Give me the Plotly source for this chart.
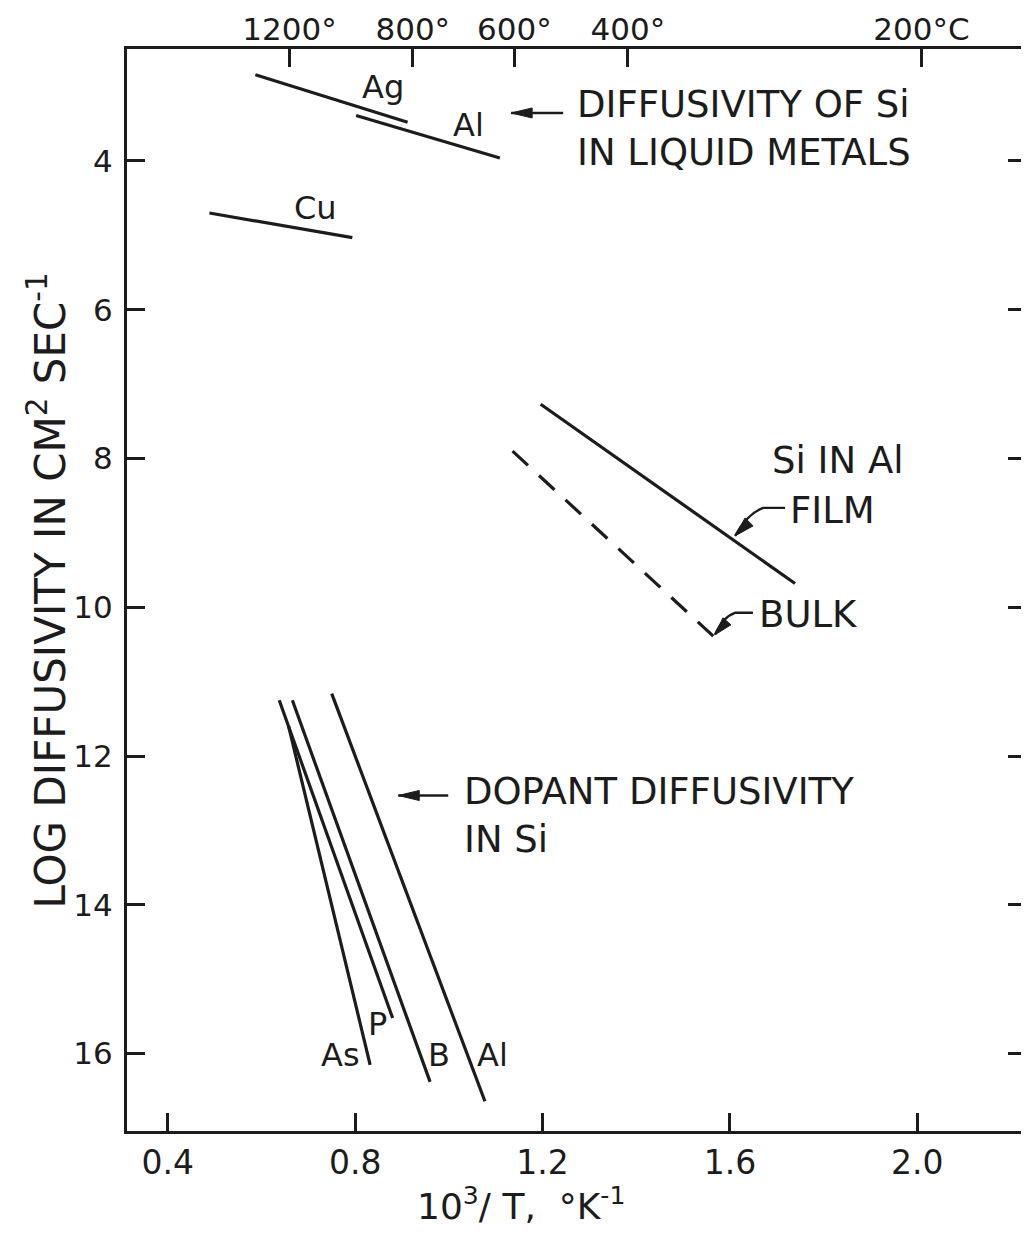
import plotly.graph_objects as go

# ---------------- data ----------------
# Diffusivity of Si in liquid metals: straight segments (x = 10^3/T, y = -log D)
liquid_metals = ["Ag", "Al", "Cu"]
liquid_x0 = [0.587, 0.802, 0.489]
liquid_x1 = [0.912, 1.109, 0.794]
liquid_y0 = [2.84, 3.39, 4.70]
liquid_y1 = [3.48, 3.96, 5.03]

# Si in Al
si_in_al = ["FILM", "BULK"]
sial_x0 = [1.196, 1.136]
sial_x1 = [1.739, 1.570]
sial_y0 = [7.27, 7.90]
sial_y1 = [9.68, 10.42]

# Dopant diffusivity in Si
dopants = ["P", "As", "B", "Al"]
dop_x0 = [0.638, 0.658, 0.666, 0.750]
dop_x1 = [0.880, 0.832, 0.960, 1.077]
dop_y0 = [11.25, 11.60, 11.25, 11.16]
dop_y1 = [15.52, 16.15, 16.38, 16.64]

# axes
x_ticks = [0.4, 0.8, 1.2, 1.6, 2.0]
x_tick_labels = ["0.4", "0.8", "1.2", "1.6", "2.0"]
y_ticks = [4, 6, 8, 10, 12, 14, 16]
top_tick_pos = [0.660, 0.923, 1.140, 1.382, 2.009]
top_tick_labels = ["1200°", "800°", "600°", "400°", "200°C"]

X_RANGE = [0.313, 2.232]
Y_RANGE = [17.04, 2.495]

INK = "#1c1c1c"
WORD_FONT = dict(family="DejaVu Sans", size=37, color=INK)
LABEL_FONT = dict(family="DejaVu Sans", size=32, color=INK)

fig = go.Figure()

def seg(x0, x1, y0, y1, name, dash="solid"):
    fig.add_trace(go.Scatter(
        x=[x0, x1], y=[y0, y1], mode="lines", name=name,
        line=dict(color=INK, width=3.2, dash=dash), showlegend=False,
        hoverinfo="skip"))

for i, n in enumerate(liquid_metals):
    seg(liquid_x0[i], liquid_x1[i], liquid_y0[i], liquid_y1[i], n)
for i, n in enumerate(si_in_al):
    seg(sial_x0[i], sial_x1[i], sial_y0[i], sial_y1[i], n,
        dash="solid" if n == "FILM" else "21px,15px")
for i, n in enumerate(dopants):
    seg(dop_x0[i], dop_x1[i], dop_y0[i], dop_y1[i], n)

# invisible trace to anchor the top temperature axis
fig.add_trace(go.Scatter(x=X_RANGE, y=[Y_RANGE[1], Y_RANGE[1]], xaxis="x2",
                         mode="lines", line=dict(width=0), showlegend=False,
                         hoverinfo="skip"))

ann = []
shapes = []

def txt(x, y, t, font=WORD_FONT, xanchor="left"):
    ann.append(dict(x=x, y=y, xref="x", yref="y", text=t, showarrow=False,
                    font=font, xanchor=xanchor, yanchor="middle",
                    align="left"))

def pointer(x, y, leader_path, head_path):
    """Leader + filled arrowhead, drawn in pixels relative to the tip (x, y)."""
    common = dict(type="path", xref="x", yref="y", xsizemode="pixel",
                  ysizemode="pixel", xanchor=x, yanchor=y)
    shapes.append(dict(path=leader_path, line=dict(color=INK, width=2.4),
                       fillcolor="rgba(0,0,0,0)", **common))
    shapes.append(dict(path=head_path, line=dict(color=INK, width=1),
                       fillcolor=INK, **common))

# line labels
txt(0.860, 3.00, "Ag", LABEL_FONT, "center")
txt(1.042, 3.52, "Al", LABEL_FONT, "center")
txt(0.715, 4.63, "Cu", LABEL_FONT, "center")
txt(0.768, 16.02, "As", LABEL_FONT, "center")
txt(0.848, 15.60, "P", LABEL_FONT, "center")
txt(0.979, 16.02, "B", LABEL_FONT, "center")
txt(1.094, 16.02, "Al", LABEL_FONT, "center")

# group notes with pointers
txt(1.269, 3.56, "DIFFUSIVITY OF Si<br>IN LIQUID METALS")
pointer(1.133, 3.355, "M 0 0 L 52 0", "M 0 0 L 21 5 L 21 -5 Z")

txt(1.686, 8.03, "Si IN Al")
txt(1.724, 8.70, "FILM")
pointer(1.611, 9.04, "M 0 0 Q 12 22 28 28 L 50 28",
        "M 0 0 L 10 18 L 18 10 Z")

txt(1.658, 10.10, "BULK")
pointer(1.568, 10.37, "M 0 0 Q 8 18 20 22 L 38 22",
        "M 0 0 L 8 17 L 16 10 Z")

txt(1.028, 12.80, "DOPANT DIFFUSIVITY<br>IN Si")
pointer(0.892, 12.53, "M 0 0 L 50 0", "M 0 0 L 21 5 L 21 -5 Z")

# axis titles
ann.append(dict(x=1.154, y=-0.0675, xref="x", yref="paper",
                text="10<sup>3</sup>/ T,  °K<sup>-1</sup>", showarrow=False,
                font=dict(family="DejaVu Sans", size=36, color=INK),
                xanchor="center", yanchor="middle"))
ann.append(dict(x=-0.0885, y=0.5, xref="paper", yref="paper",
                text="LOG DIFFUSIVITY IN CM<sup>2</sup> SEC<sup>-1</sup>",
                textangle=-90, showarrow=False,
                font=dict(family="DejaVu Sans", size=42, color=INK),
                xanchor="center", yanchor="middle"))

axis_common = dict(showgrid=False, zeroline=False, showline=True,
                   linecolor=INK, linewidth=3, ticks="inside", ticklen=18,
                   tickwidth=2.5, tickcolor=INK, automargin=False)

fig.update_layout(
    width=1021, height=1231,
    margin=dict(l=119, r=3, t=41, b=108, autoexpand=False),
    paper_bgcolor="white", plot_bgcolor="white",
    showlegend=False,
    annotations=ann, shapes=shapes,
    xaxis=dict(range=X_RANGE, tickvals=x_ticks, ticktext=x_tick_labels,
               mirror=True, ticklabelstandoff=0,
               tickfont=dict(family="DejaVu Sans", size=33, color=INK),
               **axis_common),
    xaxis2=dict(range=X_RANGE, overlaying="x", side="top",
                tickvals=top_tick_pos, ticktext=top_tick_labels,
                showgrid=False, zeroline=False, showline=False,
                ticks="inside", ticklen=18, tickwidth=2.5, tickcolor=INK,
                tickfont=dict(family="DejaVu Sans", size=31, color=INK),
                ticklabelstandoff=2, automargin=False),
    yaxis=dict(range=Y_RANGE, tickvals=y_ticks, mirror="ticks",
               ticklabelstandoff=5,
               tickfont=dict(family="DejaVu Sans", size=31, color=INK),
               **axis_common),
)

fig.write_html("out.html")
